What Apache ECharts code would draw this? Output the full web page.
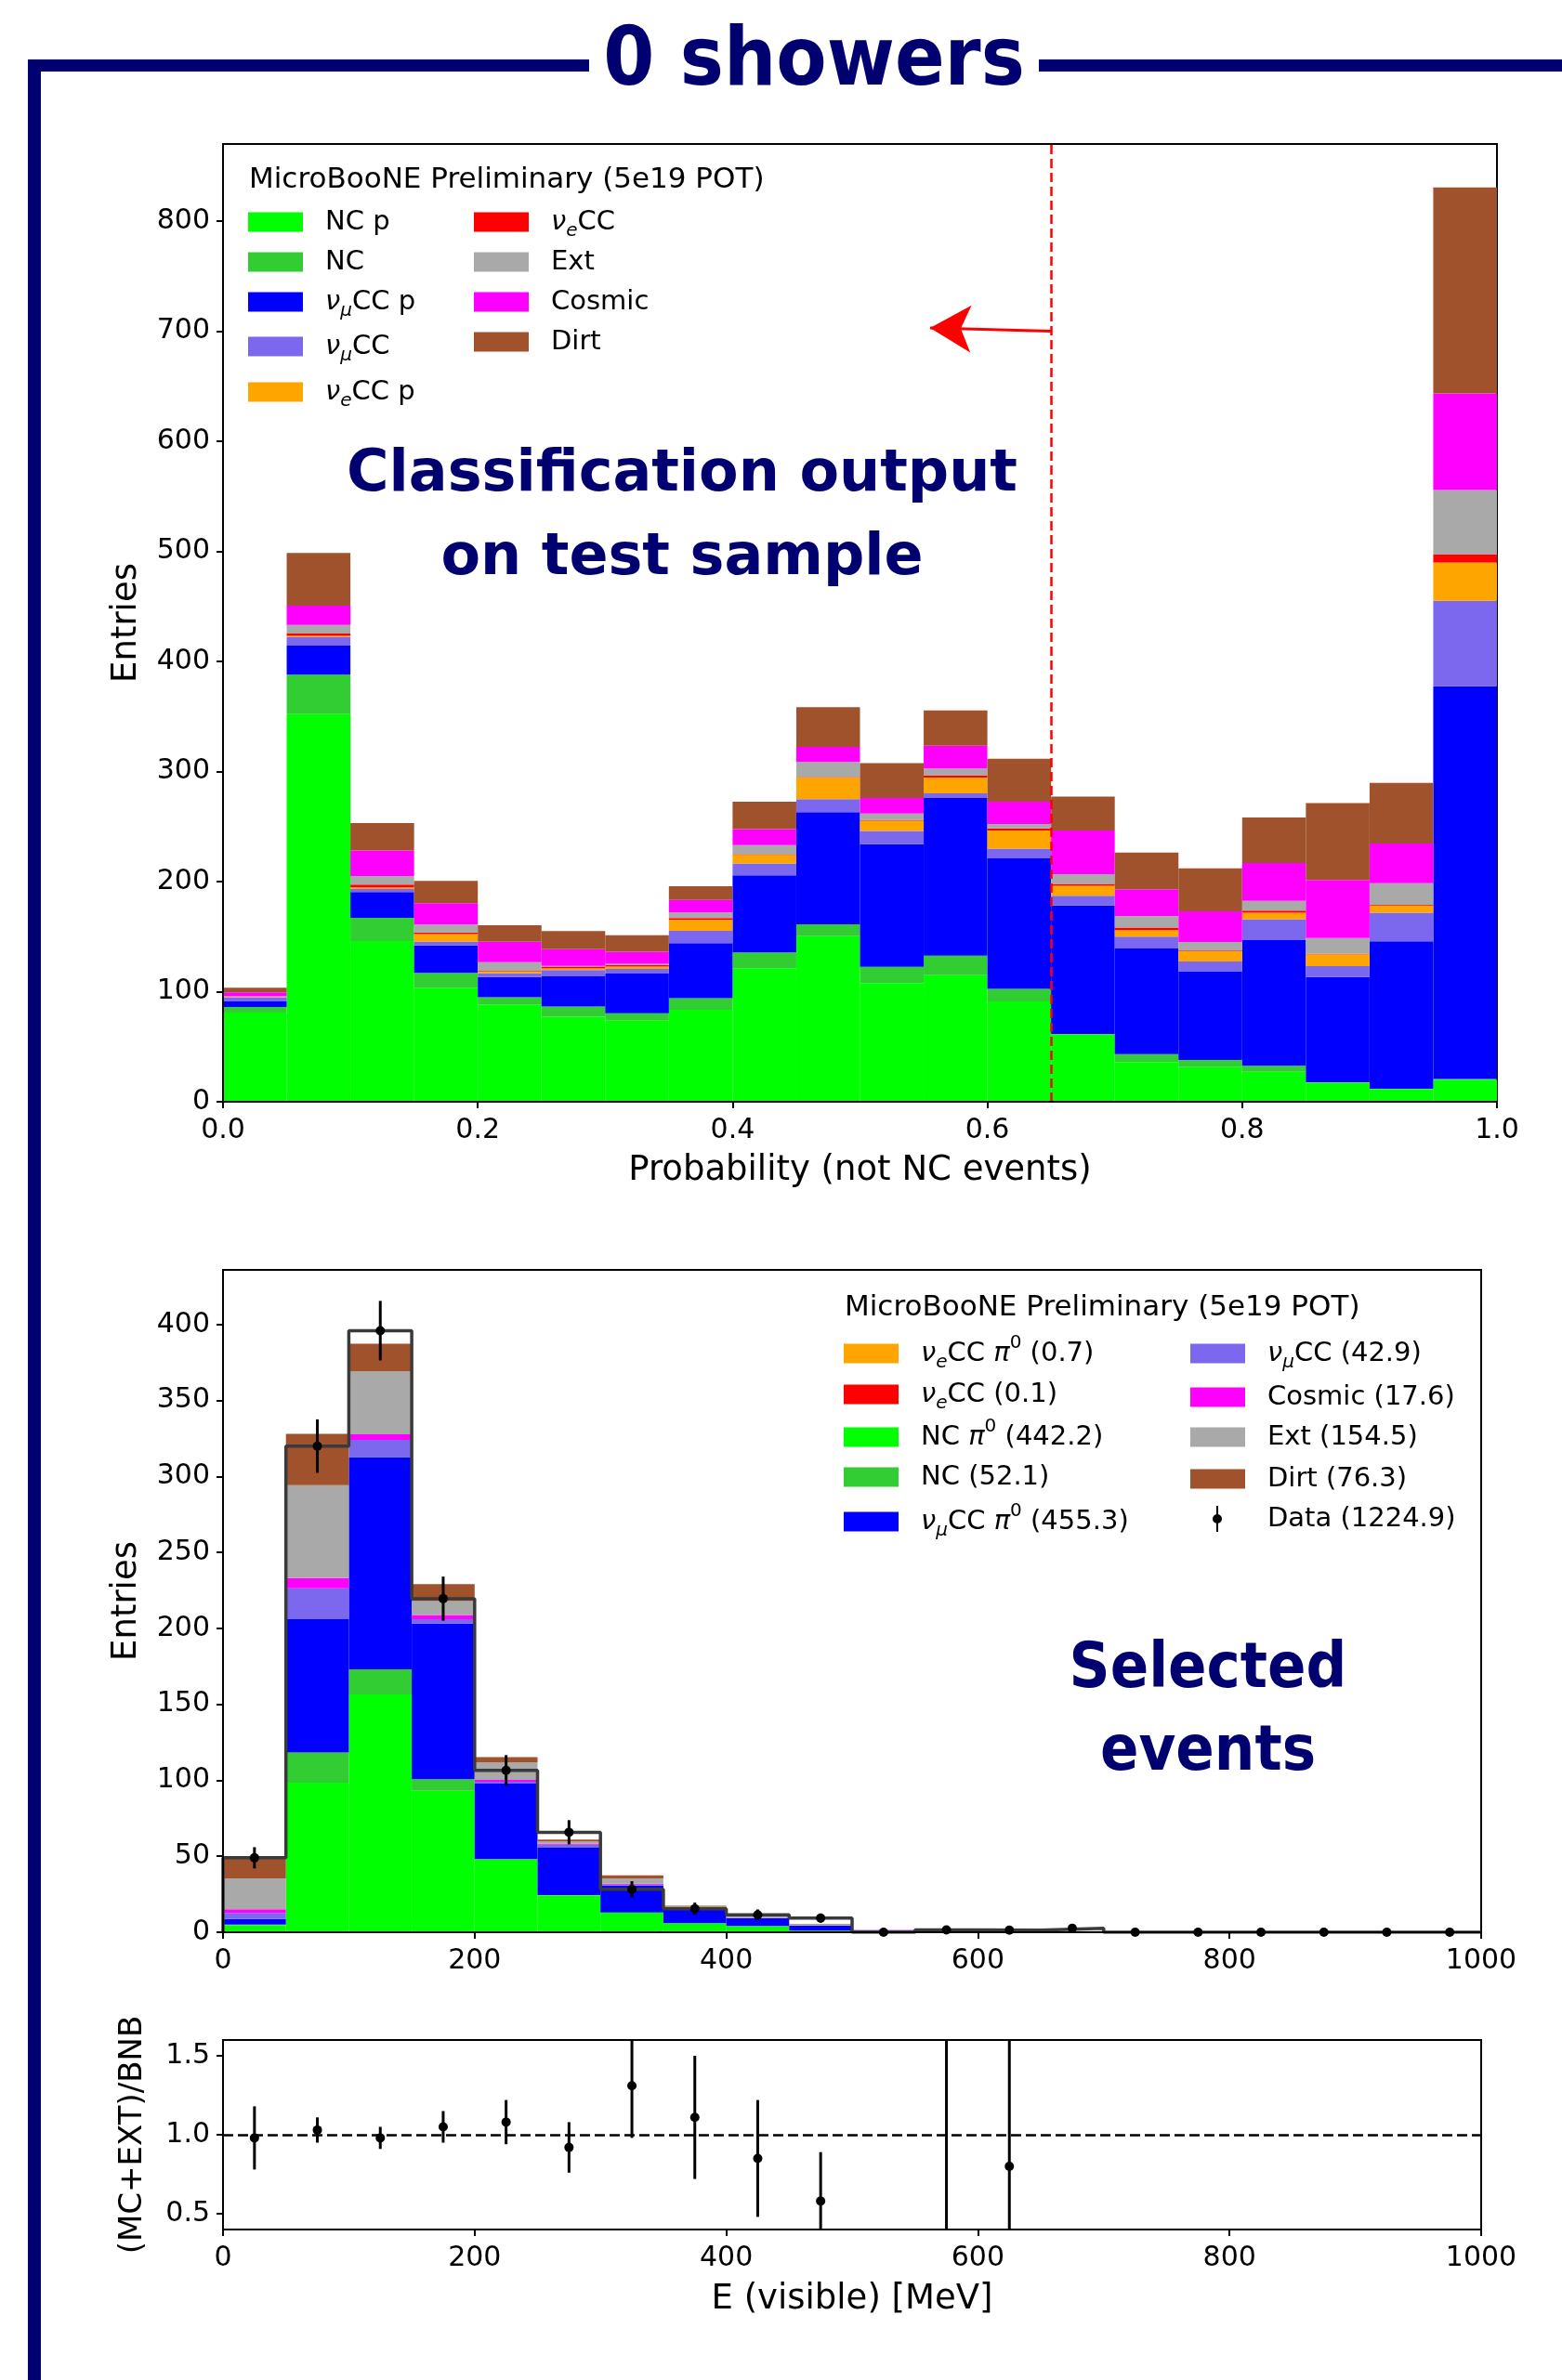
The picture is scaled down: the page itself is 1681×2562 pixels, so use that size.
<!DOCTYPE html>
<html>
<head>
<meta charset="utf-8">
<script src="https://cdn.jsdelivr.net/npm/echarts@6/dist/echarts.min.js"></script>
<style>
  html, body { margin: 0; padding: 0; background: #fff; }
  #chart { width: 1681px; height: 2562px; }
</style>
</head>
<body>
<div id="chart"></div>
<script>
// ---- top panel: classifier output, 20 bins on [0, 1] ----
const probEdges = [0, 0.05, 0.1, 0.15, 0.2, 0.25, 0.3, 0.35, 0.4, 0.45, 0.5,
  0.55, 0.6, 0.65, 0.7, 0.75, 0.8, 0.85, 0.9, 0.95, 1.0];
const ncP      = [81, 352, 146, 103.6, 88.3, 77.2, 73.7, 83.6, 121.4, 150.5, 107.8, 114.9, 91.2, 61, 36.1, 31.4, 27.3, 17.2, 11.3, 20.1];
const ncOther  = [5, 36, 21, 13.5, 6.7, 9.3, 6.7, 10.4, 14.2, 10.6, 14.8, 17.8, 11.3, 0.5, 7.1, 6.5, 5.3, 0.6, 0.5, 0.6];
const numuCCp  = [5.5, 26.3, 23.5, 24.9, 18.2, 27.4, 36, 50.1, 70.1, 101.9, 111.4, 143.3, 118.5, 116.8, 96, 80.6, 114.3, 95.4, 133.9, 356.7];
const numuCC   = [3.5, 7.8, 2.8, 3.6, 3.5, 5.7, 4.2, 11.1, 10.7, 11.9, 11.9, 4.2, 8.9, 8.9, 10.7, 8.9, 19, 10, 26.1, 77.6];
const nueCCp   = [0.3, 1.1, 1.5, 6.7, 1.4, 1.4, 2.2, 9.9, 7.8, 19.5, 9.4, 14.2, 16.5, 8.9, 5.9, 9.4, 5.9, 10.7, 6.5, 34.9];
const nueCC    = [0, 2.1, 2.5, 1.4, 0.6, 1.8, 1.4, 1.8, 0.7, 0.5, 0.5, 1.8, 1.8, 1.8, 2.4, 0.6, 1.8, 0.5, 0.5, 7.1];
const extTop   = [0.5, 7.9, 7.8, 7.2, 8.1, 0.6, 1.1, 5, 8.2, 13.7, 6, 6.5, 4.2, 8.9, 10.6, 7.7, 8.9, 14.3, 19.7, 58.7];
const cosmicTop= [3.5, 17.4, 23.1, 19.5, 18.6, 15.3, 11, 11.4, 14.6, 13.7, 14.2, 20.8, 20.1, 39.6, 24.3, 27.9, 34.3, 52.7, 36.1, 87.7];
const dirtTop  = [4.3, 48, 24.9, 20.3, 14.9, 16.4, 14.9, 12.4, 24.9, 36.1, 31.5, 32, 39.1, 30.9, 33.2, 39.1, 41.5, 69.9, 55.1, 187.2];
const topYTicks = [0, 100, 200, 300, 400, 500, 600, 700, 800];
const cutValue = 0.65;
const arrowFrom = [0.65, 700];
const arrowTo = [0.555, 703];

// ---- middle panel: selected events vs visible energy, 50 MeV bins ----
const eEdges = [0, 50, 100, 150, 200, 250, 300, 350, 400, 450, 500,
  550, 600, 650, 700, 750, 800, 850, 900, 950, 1000];
const nueCCpi0  = [0, 0.1, 0.2, 0.2, 0.1, 0.1, 0, 0, 0, 0, 0, 0, 0, 0, 0, 0, 0, 0, 0, 0];
const nueCCe    = [0, 0, 0.1, 0, 0, 0, 0, 0, 0, 0, 0, 0, 0, 0, 0, 0, 0, 0, 0, 0];
const ncPi0     = [4.6, 98.4, 156.3, 92.9, 47.8, 24.1, 12.8, 5.8, 4, 1, 0.2, 0.1, 0, 0, 0, 0, 0, 0, 0, 0];
const ncE       = [0.4, 19.8, 16.4, 7.6, 0.3, 0.2, 0.2, 0.1, 0.1, 0, 0, 0, 0, 0, 0, 0, 0, 0, 0, 0];
const numuCCpi0 = [3.7, 87.7, 139.8, 102.4, 49.7, 31.3, 17.7, 8.8, 5, 3.3, 0.9, 0.5, 0.3, 0.2, 0, 0, 0, 0, 0, 0];
const numuCCe   = [4, 20.4, 11.3, 3, 1.2, 1.9, 0.6, 0.3, 0.2, 0.1, 0.2, 0.2, 0.1, 0, 0, 0, 0, 0, 0, 0];
const cosmicE   = [2.4, 6.7, 3.6, 2.8, 1.2, 0.6, 0.6, 0, 0.2, 0, 0.2, 0, 0, 0, 0, 0, 0, 0, 0, 0];
const extE      = [20.4, 61.2, 41.5, 9.1, 11.6, 1.5, 3.6, 1.8, 1.3, 0.8, 0, 0.3, 0.3, 0.5, 0, 0, 0, 0, 0, 0];
const dirtE     = [12.8, 33.8, 18.2, 11.2, 3.3, 1.3, 1.9, 0.7, 0.3, 0.3, 0, 0, 0, 0, 0, 0, 0, 0, 0, 0];
const dataE     = [49, 320, 396, 219.6, 106.6, 65.8, 28.3, 15.5, 11.5, 9.3, 0, 1.5, 1.4, 2.6, 0, 0, 0, 0, 0, 0];
const dataErr   = [7, 17.6, 19.6, 14.5, 10, 8, 5.3, 4, 3.5, 3, 0, 0.8, 0.8, 1, 0, 0, 0, 0, 0, 0];
const midYTicks = [0, 50, 100, 150, 200, 250, 300, 350, 400];

// ---- bottom panel: ratio (MC+EXT)/BNB ----
const ratioVal = [0.98, 1.03, 0.98, 1.05, 1.08, 0.92, 1.31, 1.11, 0.85, 0.58, null, 2.2, 0.8, null, null, null, null, null, null, null];
const ratioErr = [0.2, 0.08, 0.07, 0.1, 0.14, 0.16, 0.33, 0.39, 0.37, 0.31, null, 2.0, 1.1, null, null, null, null, null, null, null];
const ratioYTicks = [0.5, 1.0, 1.5];

const FONT = "'DejaVu Sans', sans-serif";
const BOLDC = "'DejaVu Sans Condensed', 'Liberation Sans Narrow', 'DejaVu Sans', sans-serif";
const NAVY = '#000070';
const ROW_H = 42;

const binLabels = (edges) => edges.slice(0, -1).map((e, i) => e + '-' + edges[i + 1]);
const binCenters = (edges) => edges.slice(0, -1).map((e, i) => (e + edges[i + 1]) / 2);

// legend labels with sub/superscripts
const legendRich = (gap) => ({
  g: { width: gap, fontSize: 29, lineHeight: ROW_H },
  t: { fontSize: 29, lineHeight: ROW_H, fontFamily: FONT, color: '#000' },
  i: { fontSize: 29, lineHeight: ROW_H, fontFamily: FONT, color: '#000', fontStyle: 'italic' },
  sub: { fontSize: 20, lineHeight: 20, fontFamily: FONT, color: '#000', fontStyle: 'italic', padding: [19, 0, 0, 0] },
  sup: { fontSize: 20, lineHeight: 20, fontFamily: FONT, color: '#000', padding: [0, 0, 22, 0] }
});
const labels = {
  'NC p': '{t|NC p}',
  'NC': '{t|NC}',
  'numuCC p': '{i|ν}{sub|μ}{t|CC p}',
  'numuCC': '{i|ν}{sub|μ}{t|CC}',
  'nueCC p': '{i|ν}{sub|e}{t|CC p}',
  'nueCC': '{i|ν}{sub|e}{t|CC}',
  'Ext': '{t|Ext}',
  'Cosmic': '{t|Cosmic}',
  'Dirt': '{t|Dirt}',
  'nueCC pi0 (0.7)': '{i|ν}{sub|e}{t|CC }{i|π}{sup|0}{t| (0.7)}',
  'nueCC (0.1)': '{i|ν}{sub|e}{t|CC (0.1)}',
  'NC pi0 (442.2)': '{t|NC }{i|π}{sup|0}{t| (442.2)}',
  'NC (52.1)': '{t|NC (52.1)}',
  'numuCC pi0 (455.3)': '{i|ν}{sub|μ}{t|CC }{i|π}{sup|0}{t| (455.3)}',
  'numuCC (42.9)': '{i|ν}{sub|μ}{t|CC (42.9)}',
  'Cosmic (17.6)': '{t|Cosmic (17.6)}',
  'Ext (154.5)': '{t|Ext (154.5)}',
  'Dirt (76.3)': '{t|Dirt (76.3)}',
  'Data (1224.9)': '{t|Data (1224.9)}'
};

// one legend component per entry, so every row sits where the reference puts it
function legendColumn(names, left, centers, textGap, extra) {
  return names.map((n, i) => Object.assign({
    orient: 'vertical', left: left, top: centers[i] - ROW_H / 2, padding: 0,
    itemWidth: 59, itemHeight: 21, icon: 'rect',
    selectedMode: false, data: [n],
    formatter: (name) => '{g| }' + labels[typeof name === 'string' ? name : name.name],
    textStyle: { lineHeight: ROW_H, height: ROW_H, rich: legendRich(textGap) }
  }, extra || {}));
}

function stackBar(name, data, color, stack, xi, yi) {
  return {
    name: name, type: 'bar', stack: stack, data: data,
    xAxisIndex: xi, yAxisIndex: yi,
    barCategoryGap: '0%', itemStyle: { color: color },
    emphasis: { disabled: true }, z: 2
  };
}

function renderErrorBar(params, api) {
  const x = api.value(0), y = api.value(1), err = api.value(2);
  const cs = params.coordSys;
  const c = api.coord([x, y]);
  const hi = api.coord([x, y + err]);
  const lo = api.coord([x, y - err]);
  const top = Math.max(hi[1], cs.y);
  const bottom = Math.min(lo[1], cs.y + cs.height);
  const children = [];
  if (err > 0 && bottom > top) {
    children.push({ type: 'line', shape: { x1: c[0], y1: top, x2: c[0], y2: bottom },
      style: { stroke: '#000', lineWidth: 3 } });
  }
  if (c[1] >= cs.y - 1 && c[1] <= cs.y + cs.height + 1) {
    children.push({ type: 'circle', shape: { cx: c[0], cy: c[1], r: 5 }, style: { fill: '#000' } });
  }
  return { type: 'group', children: children };
}

const eCenters = binCenters(eEdges);
const dataPoints = eCenters.map((x, i) => [x, dataE[i], dataErr[i]]);
const ratioPoints = eCenters.map((x, i) => [x, ratioVal[i], ratioErr[i]]).filter(p => p[1] !== null);
const outline = [[eEdges[0], 0]].concat(eEdges.slice(0, -1).map((e, i) => [e, dataE[i]]))
  .concat([[eEdges[eEdges.length - 1], dataE[dataE.length - 1]]]);

const tickLabel = { color: '#000', fontSize: 30, fontFamily: FONT };
const axisNameStyle = { color: '#000', fontSize: 37, fontFamily: FONT };
const blackLine = { show: true, lineStyle: { color: '#000', width: 2 } };
const outTick = { show: true, inside: false, length: 7, lineStyle: { color: '#000', width: 2 } };
const plain = (v) => String(v);

const chart = echarts.init(document.getElementById('chart'), null, { renderer: 'canvas' });

const option = {
  animation: false,
  backgroundColor: '#fff',
  textStyle: { fontFamily: FONT },
  grid: [
    { left: 240, top: 155, width: 1371, height: 1031, show: true, borderColor: '#000', borderWidth: 2, outerBoundsMode: 'none' },
    { left: 240, top: 1367, width: 1354, height: 713, show: true, borderColor: '#000', borderWidth: 2, outerBoundsMode: 'none' },
    { left: 240, top: 2196, width: 1354, height: 204, show: true, borderColor: '#000', borderWidth: 2, outerBoundsMode: 'none' }
  ],
  xAxis: [
    { type: 'category', gridIndex: 0, data: binLabels(probEdges), show: false },
    { type: 'value', gridIndex: 0, position: 'bottom', min: 0, max: 1, interval: 0.2, z: 10,
      name: 'Probability (not NC events)', nameLocation: 'middle', nameGap: 56, nameTextStyle: axisNameStyle,
      axisLine: blackLine, axisTick: outTick, splitLine: { show: false },
      axisLabel: Object.assign({ margin: 16, formatter: (v) => v.toFixed(1) }, tickLabel) },
    { type: 'category', gridIndex: 1, data: binLabels(eEdges), show: false },
    { type: 'value', gridIndex: 1, position: 'bottom', min: 0, max: 1000, interval: 200, z: 10,
      axisLine: blackLine, axisTick: outTick, splitLine: { show: false },
      axisLabel: Object.assign({ margin: 16, formatter: plain }, tickLabel) },
    { type: 'value', gridIndex: 2, position: 'bottom', min: 0, max: 1000, interval: 200, z: 10,
      name: 'E (visible) [MeV]', nameLocation: 'middle', nameGap: 57, nameTextStyle: axisNameStyle,
      axisLine: blackLine, axisTick: outTick, splitLine: { show: false },
      axisLabel: Object.assign({ margin: 16, formatter: plain }, tickLabel) }
  ],
  yAxis: [
    { type: 'value', gridIndex: 0, min: 0, max: 870, z: 10,
      name: 'Entries', nameLocation: 'middle', nameGap: 85, nameTextStyle: axisNameStyle,
      axisLine: blackLine, splitLine: { show: false },
      axisTick: Object.assign({ customValues: topYTicks }, outTick),
      axisLabel: Object.assign({ margin: 14, customValues: topYTicks }, tickLabel) },
    { type: 'value', gridIndex: 1, min: 0, max: 436, z: 10,
      name: 'Entries', nameLocation: 'middle', nameGap: 85, nameTextStyle: axisNameStyle,
      axisLine: blackLine, splitLine: { show: false },
      axisTick: Object.assign({ customValues: midYTicks }, outTick),
      axisLabel: Object.assign({ margin: 14, customValues: midYTicks }, tickLabel) },
    { type: 'value', gridIndex: 2, min: 0.4, max: 1.6, z: 10,
      name: '(MC+EXT)/BNB', nameLocation: 'middle', nameGap: 80,
      nameTextStyle: { color: '#000', fontSize: 34, fontFamily: FONT },
      axisLine: blackLine, splitLine: { show: false },
      axisTick: Object.assign({ customValues: ratioYTicks }, outTick),
      axisLabel: Object.assign({ margin: 14, customValues: ratioYTicks, formatter: (v) => v.toFixed(1) }, tickLabel) }
  ],
  legend: [].concat(
    legendColumn(['NC p', 'NC', 'numuCC p', 'numuCC', 'nueCC p'], 267, [239, 282, 325, 373, 422], 19),
    legendColumn(['nueCC', 'Ext', 'Cosmic', 'Dirt'], 510, [239, 282, 325, 368], 19),
    legendColumn(['nueCC pi0 (0.7)', 'nueCC (0.1)', 'NC pi0 (442.2)', 'NC (52.1)', 'numuCC pi0 (455.3)'],
      908, [1457, 1501, 1547, 1590, 1638], 19),
    legendColumn(['numuCC (42.9)', 'Cosmic (17.6)', 'Ext (154.5)', 'Dirt (76.3)'],
      1281, [1457, 1504, 1547, 1592], 19),
    legendColumn([{ name: 'Data (1224.9)', itemStyle: { color: '#000' },
      icon: 'path://M4,0L6,0L6,28L4,28Z M0,14A5,5 0 1,1 10,14A5,5 0 1,1 0,14Z' }],
      1305, [1635], 44, { itemWidth: 10, itemHeight: 28 })
  ),
  series: [
    stackBar('NC p', ncP, '#00ff00', 'top', 0, 0),
    stackBar('NC', ncOther, '#32cd32', 'top', 0, 0),
    stackBar('numuCC p', numuCCp, '#0000ff', 'top', 0, 0),
    stackBar('numuCC', numuCC, '#7b68ee', 'top', 0, 0),
    stackBar('nueCC p', nueCCp, '#ffa500', 'top', 0, 0),
    stackBar('nueCC', nueCC, '#ff0000', 'top', 0, 0),
    stackBar('Ext', extTop, '#a9a9a9', 'top', 0, 0),
    stackBar('Cosmic', cosmicTop, '#ff00ff', 'top', 0, 0),
    stackBar('Dirt', dirtTop, '#a0522d', 'top', 0, 0),
    {
      name: 'cut', type: 'line', xAxisIndex: 1, yAxisIndex: 0, data: [], z: 5,
      markLine: {
        silent: true, symbol: ['none', 'none'], label: { show: false },
        data: [
          { xAxis: cutValue, lineStyle: { color: '#ff0000', type: [10, 5], width: 2.5 } },
          [
            { coord: arrowFrom, symbol: 'none', lineStyle: { color: '#ff0000', type: 'solid', width: 3 } },
            { coord: arrowTo, symbol: 'arrow', symbolSize: [38, 44] }
          ]
        ]
      }
    },
    stackBar('nueCC pi0 (0.7)', nueCCpi0, '#ffa500', 'mid', 2, 1),
    stackBar('nueCC (0.1)', nueCCe, '#ff0000', 'mid', 2, 1),
    stackBar('NC pi0 (442.2)', ncPi0, '#00ff00', 'mid', 2, 1),
    stackBar('NC (52.1)', ncE, '#32cd32', 'mid', 2, 1),
    stackBar('numuCC pi0 (455.3)', numuCCpi0, '#0000ff', 'mid', 2, 1),
    stackBar('numuCC (42.9)', numuCCe, '#7b68ee', 'mid', 2, 1),
    stackBar('Cosmic (17.6)', cosmicE, '#ff00ff', 'mid', 2, 1),
    stackBar('Ext (154.5)', extE, '#a9a9a9', 'mid', 2, 1),
    stackBar('Dirt (76.3)', dirtE, '#a0522d', 'mid', 2, 1),
    {
      name: 'data outline', type: 'line', step: 'end', xAxisIndex: 3, yAxisIndex: 1,
      data: outline, symbol: 'none', z: 4,
      lineStyle: { color: '#3a3a3a', width: 3.5 }
    },
    {
      name: 'Data (1224.9)', type: 'custom', xAxisIndex: 3, yAxisIndex: 1, z: 6,
      data: dataPoints, encode: { x: 0, y: 1 }, renderItem: renderErrorBar,
      itemStyle: { color: '#000' }
    },
    {
      name: 'ratio', type: 'custom', xAxisIndex: 4, yAxisIndex: 2, z: 6,
      data: ratioPoints, encode: { x: 0, y: 1 }, renderItem: renderErrorBar,
      itemStyle: { color: '#000' },
      markLine: {
        silent: true, symbol: ['none', 'none'], label: { show: false },
        data: [{ yAxis: 1.0, lineStyle: { color: '#000', type: [11, 5], width: 2.5 } }]
      }
    }
  ],
  graphic: [
    { type: 'rect', shape: { x: 30, y: 64, width: 604, height: 13 }, style: { fill: NAVY } },
    { type: 'rect', shape: { x: 1118, y: 64, width: 563, height: 13 }, style: { fill: NAVY } },
    { type: 'rect', shape: { x: 30, y: 64, width: 14, height: 2498 }, style: { fill: NAVY } },
    { type: 'text', x: 876, y: 68, style: { text: '0 showers', fill: NAVY,
      font: 'bold 88px ' + BOLDC, align: 'center', verticalAlign: 'middle',
      textAlign: 'center', textVerticalAlign: 'middle' } },
    { type: 'text', x: 734, y: 512, style: { text: 'Classification output', fill: NAVY,
      font: 'bold 62px ' + FONT, align: 'center', verticalAlign: 'middle',
      textAlign: 'center', textVerticalAlign: 'middle' } },
    { type: 'text', x: 734, y: 602, style: { text: 'on test sample', fill: NAVY,
      font: 'bold 62px ' + FONT, align: 'center', verticalAlign: 'middle',
      textAlign: 'center', textVerticalAlign: 'middle' } },
    { type: 'text', x: 1300, y: 1798, style: { text: 'Selected', fill: NAVY,
      font: 'bold 68px ' + BOLDC, align: 'center', verticalAlign: 'middle',
      textAlign: 'center', textVerticalAlign: 'middle' } },
    { type: 'text', x: 1300, y: 1887, style: { text: 'events', fill: NAVY,
      font: 'bold 68px ' + BOLDC, align: 'center', verticalAlign: 'middle',
      textAlign: 'center', textVerticalAlign: 'middle' } },
    { type: 'text', x: 268, y: 194, style: { text: 'MicroBooNE Preliminary (5e19 POT)', fill: '#000',
      font: '31px ' + FONT, align: 'left', verticalAlign: 'middle',
      textAlign: 'left', textVerticalAlign: 'middle' } },
    { type: 'text', x: 909, y: 1408, style: { text: 'MicroBooNE Preliminary (5e19 POT)', fill: '#000',
      font: '31px ' + FONT, align: 'left', verticalAlign: 'middle',
      textAlign: 'left', textVerticalAlign: 'middle' } }
  ]
};

chart.setOption(option);
</script>
</body>
</html>
